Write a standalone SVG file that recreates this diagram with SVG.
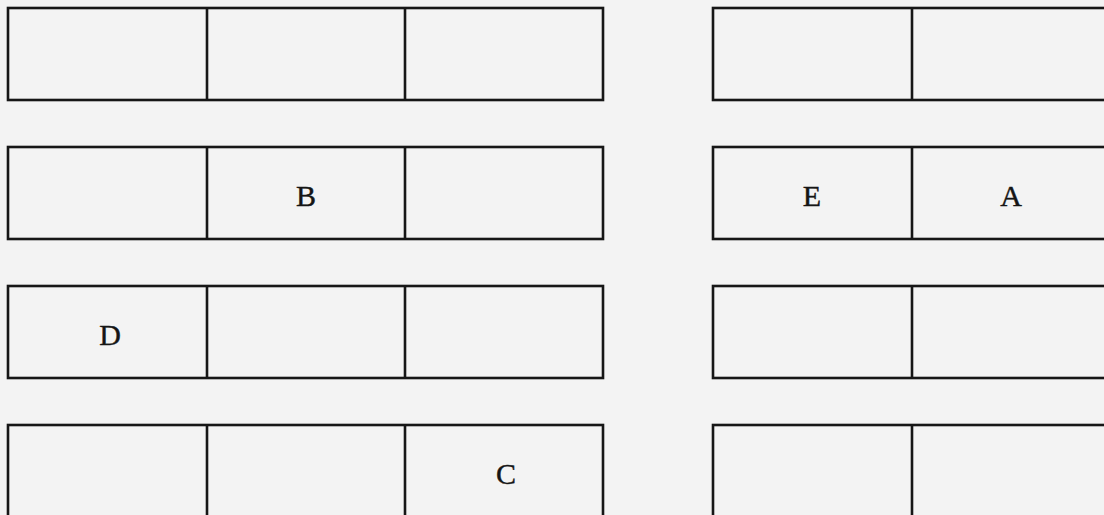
<svg xmlns="http://www.w3.org/2000/svg" width="1104" height="515" viewBox="0 0 1104 515">
<style>
.c{fill:none;stroke:#161616;stroke-width:2.6}
.t{font-family:"Liberation Serif",serif;font-size:30px;fill:#151515;stroke:#151515;stroke-width:0.4;text-anchor:middle}
</style>
<rect width="1104" height="515" fill="#f3f3f3"/>
<g id="left-grid">
<g id="row1-left"><rect class="c" x="8" y="8" width="595" height="92"/><line class="c" x1="207" y1="8" x2="207" y2="100"/><line class="c" x1="405" y1="8" x2="405" y2="100"/></g>
<g id="row2-left"><rect class="c" x="8" y="147" width="595" height="92"/><line class="c" x1="207" y1="147" x2="207" y2="239"/><line class="c" x1="405" y1="147" x2="405" y2="239"/><text class="t" x="306" y="206">B</text></g>
<g id="row3-left"><rect class="c" x="8" y="286" width="595" height="92"/><line class="c" x1="207" y1="286" x2="207" y2="378"/><line class="c" x1="405" y1="286" x2="405" y2="378"/><text class="t" x="110" y="345">D</text></g>
<g id="row4-left"><rect class="c" x="8" y="425" width="595" height="92"/><line class="c" x1="207" y1="425" x2="207" y2="517"/><line class="c" x1="405" y1="425" x2="405" y2="517"/><text class="t" x="506" y="484">C</text></g>
</g>
<g id="right-grid">
<g id="row1-right"><rect class="c" x="713" y="8" width="398" height="92"/><line class="c" x1="912" y1="8" x2="912" y2="100"/></g>
<g id="row2-right"><rect class="c" x="713" y="147" width="398" height="92"/><line class="c" x1="912" y1="147" x2="912" y2="239"/><text class="t" x="812" y="206">E</text><text class="t" x="1011" y="206">A</text></g>
<g id="row3-right"><rect class="c" x="713" y="286" width="398" height="92"/><line class="c" x1="912" y1="286" x2="912" y2="378"/></g>
<g id="row4-right"><rect class="c" x="713" y="425" width="398" height="92"/><line class="c" x1="912" y1="425" x2="912" y2="517"/></g>
</g>
<g id="connectors"/>
</svg>
